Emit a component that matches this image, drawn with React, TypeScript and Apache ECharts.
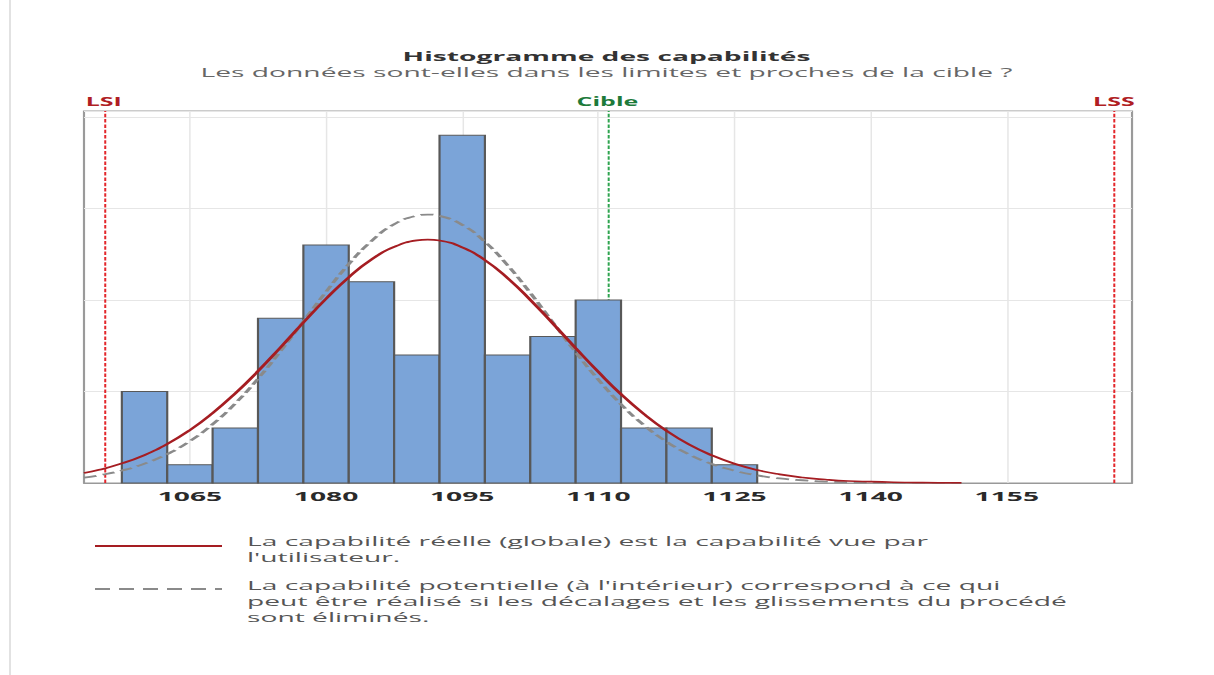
import React, { useEffect, useRef } from "react";
import * as echarts from "echarts";

// ---- data ----
const binCenters = [1060, 1065, 1070, 1075, 1080, 1085, 1090, 1095, 1100, 1105, 1110, 1115, 1120, 1125];
const binCounts = [5, 1, 3, 9, 13, 11, 7, 19, 7, 8, 10, 3, 3, 1];
const binWidth = 5;

const curveX = [
  1053.33, 1055, 1057.5, 1060, 1062.5, 1065, 1067.5, 1070, 1072.5, 1075,
  1077.5, 1080, 1082.5, 1085, 1087.5, 1090, 1091.2, 1092.5, 1095, 1097.5, 1100,
  1102.5, 1105, 1107.5, 1110, 1112.5, 1115, 1117.5, 1120, 1122.5, 1125,
  1127.5, 1130, 1132.5, 1135, 1137.5, 1140, 1142.5, 1145, 1147.5, 1150,
];
const overallCurve = [
  0.55, 0.72, 1.07, 1.53, 2.13, 2.89, 3.82, 4.9, 6.11, 7.42,
  8.77, 10.07, 11.24, 12.21, 12.9, 13.26, 13.3, 13.25, 12.88, 12.18, 11.2,
  10.01, 8.71, 7.37, 6.07, 4.85, 3.78, 2.86, 2.1, 1.51, 1.05,
  0.71, 0.47, 0.3, 0.19, 0.11, 0.07, 0.04, 0.02, 0.01, 0.01,
];
const withinCurve = [
  0.3, 0.42, 0.68, 1.06, 1.58, 2.29, 3.21, 4.35, 5.7, 7.22,
  8.83, 10.45, 11.96, 13.22, 14.14, 14.61, 14.67, 14.6, 14.11, 13.18, 11.9,
  10.39, 8.77, 7.15, 5.65, 4.3, 3.17, 2.26, 1.56, 1.04, 0.67,
  0.42, 0.25, 0.15, 0.08, 0.04, 0.02, 0.01, 0.01, 0.0, 0.0,
];

const xTicks = [1065, 1080, 1095, 1110, 1125, 1140, 1155];
const specNames = ["LSI", "Cible", "LSS"];
const specValues = [1055.5, 1111, 1166.8];

const titleText = "Histogramme des capabilités";
const subtitleText = "Les données sont-elles dans les limites et proches de la cible ?";
const legendTexts = [
  "La capabilité réelle (globale) est la capabilité vue par\nl'utilisateur.",
  "La capabilité potentielle (à l'intérieur) correspond à ce qui\npeut être réalisé si les décalages et les glissements du procédé\nsont éliminés.",
];

// ---- layout (the reference is horizontally stretched) ----
const S = 2.17;
const W = 1214 / S;
const H = 675;
const FONT = "'Open Sans', 'Noto Sans', sans-serif";

export default function App() {
  const ref = useRef<HTMLDivElement>(null);

  useEffect(() => {
    if (!ref.current) return;
    const chart = echarts.init(ref.current, undefined, { renderer: "svg" });

    const specColors = ["#e3262b", "#2ea44f", "#e3262b"];
    const specLabelColors = ["#b01e24", "#1d7a3a", "#b01e24"];

    const option: any = {
      animation: false,
      backgroundColor: "#ffffff",
      title: {
        left: "center",
        top: 44,
        text: titleText,
        subtext: subtitleText,
        itemGap: 3,
        textStyle: { fontFamily: FONT, fontSize: 13, fontWeight: "bold", color: "#333333" },
        subtextStyle: { fontFamily: FONT, fontSize: 13, color: "#666666" },
      },
      grid: {
        left: 84 / S,
        right: (1214 - 1133) / S,
        top: 111,
        bottom: H - 483,
        show: true,
        borderColor: "#9a9a9a",
        borderWidth: 1,
        backgroundColor: "transparent",
      },
      xAxis: {
        type: "value",
        min: 1053.33,
        max: 1168.8,
        axisLine: { show: true, lineStyle: { color: "#999999", width: 1 } },
        axisTick: { show: false, customValues: xTicks },
        splitLine: { show: false },
        axisLabel: {
          customValues: xTicks,
          formatter: (v: number) => String(v),
          fontFamily: FONT,
          fontSize: 13,
          fontWeight: "bold",
          color: "#2a2a2a",
          margin: 6,
        },
      },
      yAxis: {
        type: "value",
        min: 0,
        max: 20.33,
        interval: 5,
        axisLabel: { show: false },
        axisLine: { show: false },
        axisTick: { show: false },
        splitLine: { show: true, lineStyle: { color: "#e6e6e6", width: 1 } },
      },
      graphic: [
        {
          type: "line",
          shape: { x1: 10 / S, y1: 0, x2: 10 / S, y2: H },
          style: { stroke: "#e2e2e2", lineWidth: 2 / S },
        },
        {
          type: "line",
          shape: { x1: 95 / S, y1: 546, x2: 222 / S, y2: 546 },
          style: { stroke: "#a51d22", lineWidth: 2 },
        },
        {
          type: "line",
          shape: { x1: 95 / S, y1: 589, x2: 222 / S, y2: 589 },
          style: { stroke: "#8a8a8a", lineWidth: 2, lineDash: [15 / S, 9 / S] },
        },
        {
          type: "text",
          x: 247 / S,
          y: 533,
          style: {
            text: legendTexts[0],
            fontFamily: FONT,
            fontSize: 13,
            lineHeight: 16,
            fill: "#555555",
            textVerticalAlign: "top",
          },
        },
        {
          type: "text",
          x: 247 / S,
          y: 577,
          style: {
            text: legendTexts[1],
            fontFamily: FONT,
            fontSize: 13,
            lineHeight: 16,
            fill: "#555555",
            textVerticalAlign: "top",
          },
        },
      ],
      series: [
        {
          type: "line",
          name: "grid-lines",
          data: [],
          silent: true,
          z: 1,
          markLine: {
            silent: true,
            z: 1,
            symbol: "none",
            animation: false,
            label: { show: false },
            lineStyle: { color: "#e6e6e6", width: 1.5 / S, type: "solid" },
            data: xTicks.map((v) => ({ xAxis: v })),
          },
        },
        {
          type: "line",
          name: "spec-lines",
          data: [],
          silent: true,
          z: 1,
          markLine: {
            silent: true,
            z: 1,
            symbol: "none",
            animation: false,
            data: specValues.map((v, i) => ({
              xAxis: v,
              lineStyle: { color: specColors[i], width: 2 / S, type: [3.5, 1.8] },
              label: {
                show: true,
                position: "end",
                formatter: specNames[i],
                color: specLabelColors[i],
                fontFamily: FONT,
                fontSize: 11.5,
                fontWeight: "bold",
                distance: 3,
              },
            })),
          },
        },
        {
          type: "custom",
          name: "histogram",
          z: 2,
          data: binCenters.map((c, i) => [c, binCounts[i]]),
          renderItem: (params: any, api: any) => {
            const x = api.value(0);
            const c = api.value(1);
            const p0 = api.coord([x - binWidth / 2, c]);
            const p1 = api.coord([x + binWidth / 2, 0]);
            return {
              type: "rect",
              shape: { x: p0[0], y: p0[1], width: p1[0] - p0[0], height: p1[1] - p0[1] },
              style: { fill: "#7ba4d8", stroke: "#585858", lineWidth: 1 },
            };
          },
        },
        {
          type: "line",
          name: "potential",
          z: 3,
          smooth: true,
          showSymbol: false,
          data: curveX.map((x, i) => [x, withinCurve[i]]),
          lineStyle: { color: "#8a8a8a", width: 1.8, type: [6, 3] },
        },
        {
          type: "line",
          name: "overall",
          z: 4,
          smooth: true,
          showSymbol: false,
          data: curveX.map((x, i) => [x, overallCurve[i]]),
          lineStyle: { color: "#a51d22", width: 1.7 },
        },
      ],
    };

    chart.setOption(option);
    return () => chart.dispose();
  }, []);

  return (
    <div
      ref={ref}
      style={{
        position: "fixed",
        left: 0,
        top: 0,
        width: W + "px",
        height: H + "px",
        transform: `scaleX(${S})`,
        transformOrigin: "0 0",
        background: "#ffffff",
      }}
    />
  );
}
